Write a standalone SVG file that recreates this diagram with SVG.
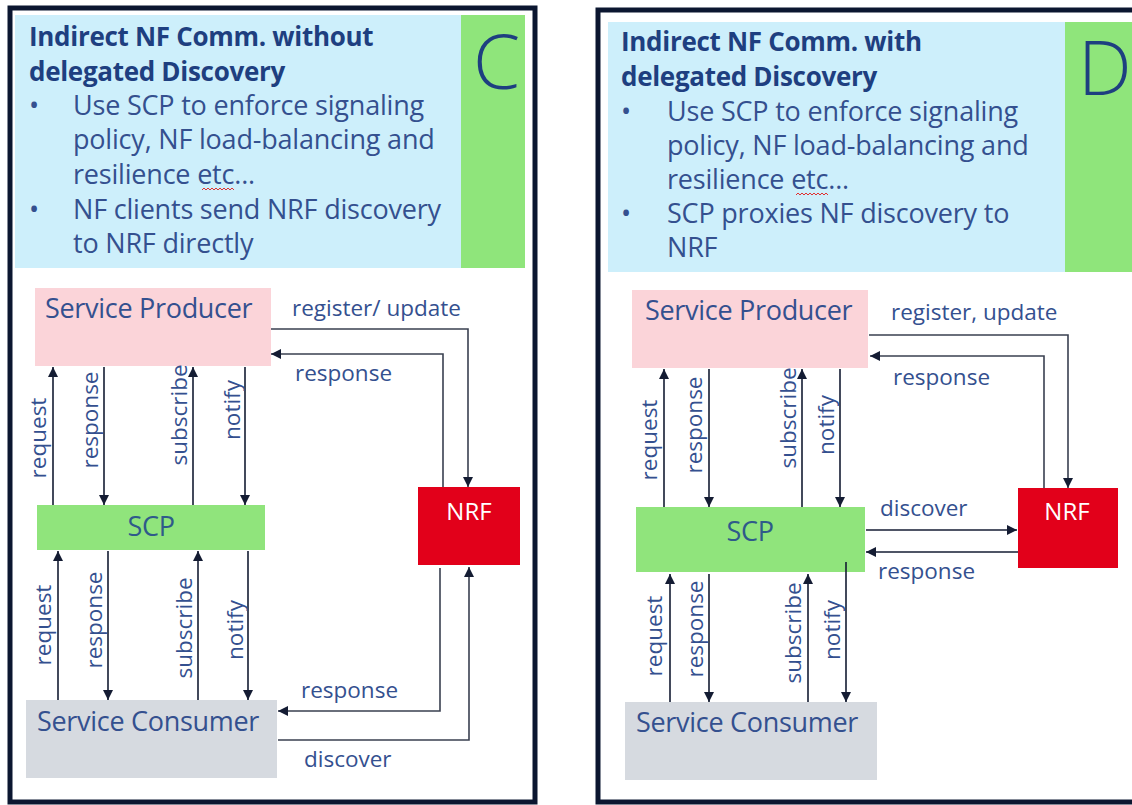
<svg xmlns="http://www.w3.org/2000/svg" width="1132" height="805" viewBox="0 0 1132 805">
<defs>
<marker id="ah" viewBox="0 0 10 10" refX="10" refY="5" markerWidth="10" markerHeight="10" markerUnits="userSpaceOnUse" orient="auto">
<path d="M0,0 L10,5 L0,10 z" fill="#141c33"/>
</marker>
<style>
.frame{fill:#ffffff;stroke:#0b1630;stroke-width:5}
.hdr{fill:#cdeffb}
.tab{fill:#8fe57b}
.title{font-family:"Open Sans","Noto Sans",sans-serif;font-weight:bold;font-size:26px;fill:#1e3f80;letter-spacing:-0.3px}
.body{font-family:"Open Sans","Noto Sans",sans-serif;font-size:27px;fill:#34508f;letter-spacing:-0.2px}
.big{font-family:"Open Sans","Noto Sans",sans-serif;font-size:76px;fill:#1e3f80;font-weight:300}
.box{font-family:"Open Sans","Noto Sans",sans-serif;font-size:27px;fill:#34508f;letter-spacing:-0.3px}
.nrf{font-family:"Open Sans","Noto Sans",sans-serif;font-size:24px;fill:#ffffff}
.lbl{font-family:"Open Sans","Noto Sans",sans-serif;font-size:22.5px;fill:#34508f}
.ln{fill:none;stroke:#141c33;stroke-width:1.6}
.lg{fill:none;stroke:#3a4050;stroke-width:1.6}
.prod{fill:#fbd4d9}
.scp{fill:#90e47c}
.cons{fill:#d6dae0}
.red{fill:#e2001a}
.sq{fill:none;stroke:#e03030;stroke-width:1}
</style>
</defs>
<rect width="1132" height="805" fill="#ffffff"/>

<!-- Left panel -->
<g id="panelC">
<rect class="frame" x="10" y="8" width="525" height="794"/>
<rect class="hdr" x="15" y="15" width="446" height="253"/>
<rect class="tab" x="461" y="15" width="64" height="253"/>
<text class="title" x="29" y="46">Indirect NF Comm. without</text>
<text class="title" x="29" y="81">delegated Discovery</text>
<text class="body" x="29" y="115">•</text>
<text class="body" x="73" y="115">Use SCP to enforce signaling</text>
<text class="body" x="73" y="149">policy, NF load-balancing and</text>
<text class="body" x="73" y="184">resilience etc...</text>
<path class="sq" d="M202,190 l2,-2 l2,2 l2,-2 l2,2 l2,-2 l2,2 l2,-2 l2,2 l2,-2 l2,2 l2,-2 l2,2 l2,-2 l2,2 l2,-2 l2,2"/>
<text class="body" x="29" y="219">•</text>
<text class="body" x="73" y="219">NF clients send NRF discovery</text>
<text class="body" x="73" y="253">to NRF directly</text>
<text class="big" x="473" y="89">C</text>
</g>

<g id="producerC">
<rect class="prod" x="35" y="288" width="236" height="78"/>
<text class="box" x="45" y="318">Service Producer</text>
</g>
<g id="scpC">
<rect class="scp" x="37" y="505" width="228" height="45"/>
<text class="box" x="151" y="536" text-anchor="middle" style="fill:#2f5a8a">SCP</text>
</g>
<g id="consumerC">
<rect class="cons" x="26" y="700" width="251" height="78"/>
<text class="box" x="37" y="731">Service Consumer</text>
</g>
<g id="nrfC">
<rect class="red" x="418" y="487" width="102" height="78"/>
<text class="nrf" x="469" y="520" text-anchor="middle">NRF</text>
</g>

<g id="connectorsC">
<line class="ln" x1="53" y1="505" x2="53" y2="367" marker-end="url(#ah)"/>
<line class="ln" x1="104" y1="367" x2="104" y2="505" marker-end="url(#ah)"/>
<line class="ln" x1="193" y1="505" x2="193" y2="367" marker-end="url(#ah)"/>
<line class="ln" x1="245" y1="367" x2="245" y2="505" marker-end="url(#ah)"/>
<line class="ln" x1="58" y1="700" x2="58" y2="551" marker-end="url(#ah)"/>
<line class="ln" x1="108" y1="551" x2="108" y2="700" marker-end="url(#ah)"/>
<line class="ln" x1="198" y1="700" x2="198" y2="551" marker-end="url(#ah)"/>
<line class="ln" x1="248" y1="551" x2="248" y2="700" marker-end="url(#ah)"/>
<polyline class="lg" points="271,329 468,329 468,487" marker-end="url(#ah)"/>
<polyline class="lg" points="443,487 443,354 271,354" marker-end="url(#ah)"/>
<polyline class="lg" points="440,568 440,711 278,711" marker-end="url(#ah)"/>
<polyline class="lg" points="278,740 469,740 469,567" marker-end="url(#ah)"/>
<text class="lbl" x="292" y="316">register/ update</text>
<text class="lbl" x="295" y="381">response</text>
<text class="lbl" x="301" y="698">response</text>
<text class="lbl" x="304" y="767">discover</text>
<text class="lbl" transform="translate(46,438) rotate(-90)" text-anchor="middle">request</text>
<text class="lbl" transform="translate(98,420) rotate(-90)" text-anchor="middle">response</text>
<text class="lbl" transform="translate(187,415) rotate(-90)" text-anchor="middle">subscribe</text>
<text class="lbl" transform="translate(240,410) rotate(-90)" text-anchor="middle">notify</text>
<text class="lbl" transform="translate(51,625) rotate(-90)" text-anchor="middle">request</text>
<text class="lbl" transform="translate(102,620) rotate(-90)" text-anchor="middle">response</text>
<text class="lbl" transform="translate(192,628) rotate(-90)" text-anchor="middle">subscribe</text>
<text class="lbl" transform="translate(243,630) rotate(-90)" text-anchor="middle">notify</text>
</g>

<!-- Right panel -->
<g id="panelD">
<rect class="frame" x="598" y="10" width="560" height="792"/>
<rect class="hdr" x="608" y="22" width="457" height="250"/>
<rect class="tab" x="1065" y="22" width="67" height="250"/>
<text class="title" x="621" y="51">Indirect NF Comm. with</text>
<text class="title" x="621" y="86">delegated Discovery</text>
<text class="body" x="621" y="121">•</text>
<text class="body" x="667" y="121">Use SCP to enforce signaling</text>
<text class="body" x="667" y="155">policy, NF load-balancing and</text>
<text class="body" x="667" y="189">resilience etc...</text>
<path class="sq" d="M796,195 l2,-2 l2,2 l2,-2 l2,2 l2,-2 l2,2 l2,-2 l2,2 l2,-2 l2,2 l2,-2 l2,2 l2,-2 l2,2 l2,-2 l2,2"/>
<text class="body" x="621" y="223">•</text>
<text class="body" x="667" y="223">SCP proxies NF discovery to</text>
<text class="body" x="667" y="257">NRF</text>
<text class="big" x="1078" y="95">D</text>
</g>

<g id="producerD">
<rect class="prod" x="632" y="290" width="236" height="78"/>
<text class="box" x="645" y="320">Service Producer</text>
</g>
<g id="scpD">
<rect class="scp" x="636" y="507" width="229" height="65"/>
<text class="box" x="750" y="541" text-anchor="middle" style="fill:#2f5a8a">SCP</text>
</g>
<g id="consumerD">
<rect class="cons" x="625" y="702" width="252" height="78"/>
<text class="box" x="636" y="732">Service Consumer</text>
</g>
<g id="nrfD">
<rect class="red" x="1018" y="488" width="100" height="80"/>
<text class="nrf" x="1067" y="520" text-anchor="middle">NRF</text>
</g>

<g id="connectorsD">
<line class="ln" x1="664" y1="507" x2="664" y2="369" marker-end="url(#ah)"/>
<line class="ln" x1="709" y1="369" x2="709" y2="507" marker-end="url(#ah)"/>
<line class="ln" x1="802" y1="507" x2="802" y2="369" marker-end="url(#ah)"/>
<line class="ln" x1="840" y1="369" x2="840" y2="507" marker-end="url(#ah)"/>
<line class="ln" x1="670" y1="702" x2="670" y2="574" marker-end="url(#ah)"/>
<line class="ln" x1="709" y1="574" x2="709" y2="702" marker-end="url(#ah)"/>
<line class="ln" x1="808" y1="702" x2="808" y2="574" marker-end="url(#ah)"/>
<line class="ln" x1="846" y1="562" x2="846" y2="702" marker-end="url(#ah)"/>
<polyline class="lg" points="869,335 1068,335 1068,488" marker-end="url(#ah)"/>
<polyline class="lg" points="1044,488 1044,356 870,356" marker-end="url(#ah)"/>
<line class="ln" x1="866" y1="530" x2="1017" y2="530" marker-end="url(#ah)"/>
<line class="ln" x1="1018" y1="552" x2="866" y2="552" marker-end="url(#ah)"/>
<text class="lbl" x="891" y="320">register, update</text>
<text class="lbl" x="893" y="385">response</text>
<text class="lbl" x="880" y="516">discover</text>
<text class="lbl" x="878" y="579">response</text>
<text class="lbl" transform="translate(657,440) rotate(-90)" text-anchor="middle">request</text>
<text class="lbl" transform="translate(702,425) rotate(-90)" text-anchor="middle">response</text>
<text class="lbl" transform="translate(796,418) rotate(-90)" text-anchor="middle">subscribe</text>
<text class="lbl" transform="translate(834,425) rotate(-90)" text-anchor="middle">notify</text>
<text class="lbl" transform="translate(662,636) rotate(-90)" text-anchor="middle">request</text>
<text class="lbl" transform="translate(703,629) rotate(-90)" text-anchor="middle">response</text>
<text class="lbl" transform="translate(801,633) rotate(-90)" text-anchor="middle">subscribe</text>
<text class="lbl" transform="translate(840,630) rotate(-90)" text-anchor="middle">notify</text>
</g>
</svg>
